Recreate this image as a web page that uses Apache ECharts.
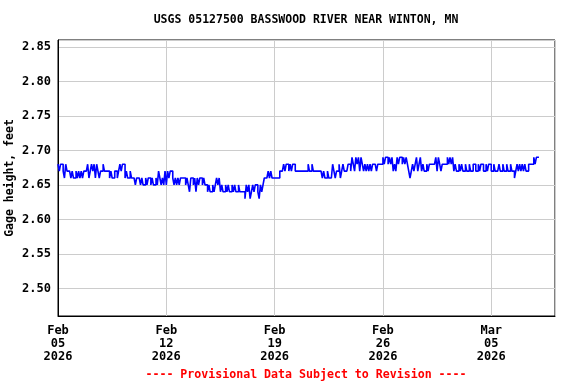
<!DOCTYPE html>
<html><head><meta charset="utf-8">
<script src="https://cdn.jsdelivr.net/npm/echarts@6/dist/echarts.min.js"></script>
<style>html,body{margin:0;padding:0;background:#fff}#c{width:576px;height:384px}</style>
</head><body><div id="c"></div>
<script>
const chartTitle = 'USGS 05127500 BASSWOOD RIVER NEAR WINTON, MN';
const yAxisTitle = 'Gage height, feet';
const footerNote = '---- Provisional Data Subject to Revision ----';
const xTickLabels = ['Feb\n05\n2026', 'Feb\n12\n2026', 'Feb\n19\n2026', 'Feb\n26\n2026', 'Mar\n05\n2026'];
const yTickLabels = ['2.50', '2.55', '2.60', '2.65', '2.70', '2.75', '2.80', '2.85'];
const xRangeDays = [0, 32.12];   // Feb 05 2026 00:00 .. ~Mar 09 03:00
const yRangeFeet = [2.46, 2.86];
const sampleStepDays = 2 / 24;    // readings every 2 hours from Feb 05 00:00
// gage height, feet (one row per day)
const gageHeight = [
  2.68,2.67,2.68,2.68,2.67,2.66,2.68,2.67,2.67,2.67,2.66,2.67,
  2.66,2.66,2.67,2.66,2.67,2.66,2.67,2.66,2.67,2.67,2.67,2.68,
  2.66,2.67,2.68,2.67,2.68,2.66,2.68,2.67,2.66,2.67,2.67,2.68,
  2.67,2.67,2.67,2.67,2.66,2.67,2.66,2.66,2.67,2.67,2.66,2.67,
  2.68,2.67,2.68,2.68,2.66,2.67,2.66,2.66,2.67,2.66,2.66,2.66,
  2.65,2.66,2.66,2.66,2.65,2.66,2.65,2.65,2.66,2.65,2.66,2.66,
  2.65,2.66,2.65,2.65,2.66,2.65,2.67,2.66,2.65,2.66,2.65,2.67,
  2.65,2.67,2.66,2.67,2.67,2.66,2.65,2.66,2.65,2.66,2.65,2.66,
  2.66,2.66,2.66,2.65,2.66,2.65,2.64,2.66,2.66,2.65,2.66,2.64,
  2.66,2.65,2.66,2.66,2.65,2.66,2.65,2.65,2.64,2.65,2.64,2.64,
  2.65,2.64,2.65,2.66,2.65,2.66,2.64,2.65,2.64,2.64,2.65,2.64,
  2.65,2.64,2.64,2.65,2.64,2.65,2.64,2.64,2.65,2.64,2.64,2.64,
  2.64,2.63,2.65,2.64,2.65,2.63,2.64,2.65,2.64,2.65,2.65,2.64,
  2.63,2.65,2.64,2.65,2.66,2.66,2.66,2.67,2.66,2.67,2.66,2.66,
  2.66,2.66,2.66,2.66,2.67,2.67,2.67,2.68,2.67,2.68,2.68,2.67,
  2.68,2.67,2.68,2.68,2.67,2.67,2.67,2.67,2.67,2.67,2.67,2.67,
  2.67,2.67,2.68,2.67,2.67,2.68,2.67,2.67,2.67,2.67,2.67,2.67,
  2.67,2.66,2.67,2.66,2.66,2.67,2.66,2.66,2.66,2.68,2.67,2.66,
  2.67,2.67,2.68,2.66,2.67,2.68,2.67,2.67,2.67,2.68,2.68,2.67,
  2.69,2.68,2.67,2.69,2.68,2.69,2.67,2.69,2.68,2.67,2.68,2.67,
  2.68,2.67,2.68,2.67,2.68,2.68,2.68,2.67,2.68,2.68,2.68,2.68,
  2.69,2.68,2.69,2.69,2.68,2.69,2.68,2.69,2.67,2.68,2.67,2.69,
  2.68,2.69,2.69,2.68,2.69,2.68,2.69,2.68,2.67,2.66,2.67,2.68,
  2.67,2.68,2.69,2.67,2.68,2.69,2.67,2.68,2.67,2.67,2.68,2.67,
  2.68,2.68,2.68,2.68,2.68,2.69,2.67,2.69,2.68,2.67,2.68,2.68,
  2.68,2.68,2.69,2.68,2.69,2.68,2.69,2.67,2.68,2.67,2.67,2.68,
  2.67,2.68,2.67,2.67,2.68,2.67,2.67,2.68,2.67,2.67,2.68,2.68,
  2.67,2.67,2.68,2.67,2.68,2.68,2.67,2.67,2.68,2.67,2.68,2.68,
  2.67,2.67,2.68,2.67,2.67,2.67,2.68,2.67,2.67,2.68,2.67,2.67,
  2.68,2.67,2.67,2.68,2.67,2.67,2.66,2.67,2.68,2.67,2.68,2.67,
  2.68,2.67,2.68,2.67,2.67,2.68,2.68,2.68,2.68,2.69,2.68,2.69,
  2.69,2.69
];

const FONT = '"DejaVu Sans Mono", "Liberation Mono", monospace';
const seriesData = gageHeight.map((v, i) => [i * sampleStepDays, v]);

const chart = echarts.init(document.getElementById('c'), null, {renderer: 'canvas'});
chart.setOption({
  animation: false,
  backgroundColor: '#ffffff',
  grid: {left: 58, right: 21, top: 40, bottom: 68, containLabel: false, outerBoundsMode: 'none',
         show: true, borderColor: '#000', borderWidth: 1, backgroundColor: 'transparent'},
  graphic: [
    {type: 'text', x: 306, y: 20, silent: true,
     style: {text: chartTitle, x: 0, y: 0, align: 'center', verticalAlign: 'middle', font: 'bold 11.5px ' + FONT, fill: '#000'}},
    {type: 'text', x: 306, y: 375, silent: true,
     style: {text: footerNote, x: 0, y: 0, align: 'center', verticalAlign: 'middle', font: 'bold 11.6px ' + FONT, fill: '#ff0000'}}
  ],
  xAxis: {
    type: 'value', min: xRangeDays[0], max: xRangeDays[1], interval: 7,
    axisLine: {show: true, lineStyle: {color: '#000'}},
    axisTick: {show: false},
    splitLine: {show: true, lineStyle: {color: '#cccccc', width: 1}},
    axisLabel: {
      show: true, margin: 9, color: '#000', fontFamily: FONT, fontWeight: 'bold', fontSize: 12, lineHeight: 12.7,
      showMaxLabel: false,
      formatter: function (v) {
        const k = Math.round(v / 7);
        return Math.abs(v - k * 7) < 1e-6 && xTickLabels[k] ? xTickLabels[k] : '';
      }
    }
  },
  yAxis: {
    type: 'value', min: yRangeFeet[0], max: yRangeFeet[1], splitNumber: 8,
    name: yAxisTitle, nameLocation: 'middle', nameGap: 42, nameRotate: 90, nameMoveOverlap: false,
    nameTextStyle: {color: '#000', fontFamily: FONT, fontWeight: 'bold', fontSize: 11.5},
    axisLine: {show: true, lineStyle: {color: '#000'}},
    axisTick: {show: false},
    splitLine: {show: true, lineStyle: {color: '#cccccc', width: 1}},
    axisLabel: {
      show: true, margin: 7, color: '#000', fontFamily: FONT, fontWeight: 'bold', fontSize: 12,
      showMinLabel: false, showMaxLabel: false,
      formatter: function (v) {
        const s = v.toFixed(2);
        return yTickLabels.indexOf(s) >= 0 && Math.abs(v * 20 - Math.round(v * 20)) < 1e-6 ? s : '';
      }
    }
  },
  series: [{
    type: 'line', data: seriesData, step: 'end', showSymbol: false, symbol: 'none',
    lineStyle: {color: '#0000ff', width: 1.6}, itemStyle: {color: '#0000ff'}, clip: true
  }]
});
</script></body></html>
